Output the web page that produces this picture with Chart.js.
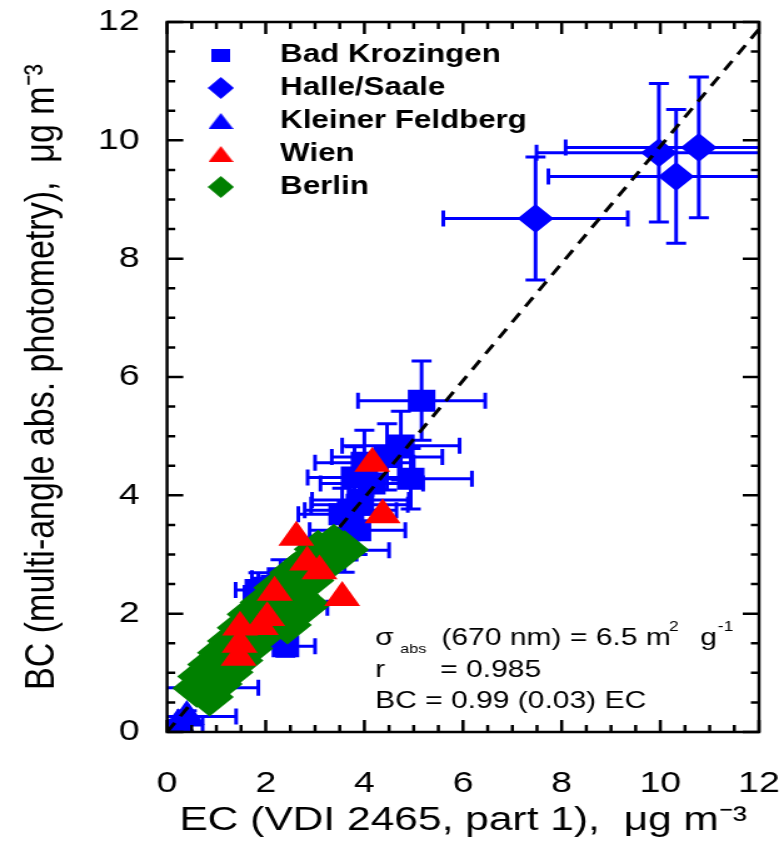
<!DOCTYPE html>
<html>
<head>
<meta charset="utf-8">
<script src="https://cdn.jsdelivr.net/npm/chart.js@4.4.0/dist/chart.umd.min.js"></script>
<style>
  html, body { margin: 0; padding: 0; background: #fff; overflow: hidden; }
  /* the original figure is stretched horizontally, so draw narrow and widen */
  #wrap { width: 627px; height: 851px; transform: scaleX(1.2504); transform-origin: 0 0; }
</style>
</head>
<body>
<div id="wrap"><canvas id="chart" width="627" height="851"></canvas></div>
<script>
// --- data ---
const sites = ['Bad Krozingen', 'Halle/Saale', 'Kleiner Feldberg', 'Wien', 'Berlin'];

const bkX  = [5.16, 4.74, 4.46, 4.94, 4.00, 4.15, 3.92, 3.90, 3.72, 3.86, 3.55, 3.80, 3.60, 2.40, 2.10, 1.85, 2.30, 1.20, 2.60];
const bkY  = [5.60, 4.84, 4.65, 4.28, 4.55, 4.20, 3.92, 3.84, 3.75, 3.41, 3.68, 4.30, 3.07, 1.45, 2.35, 2.40, 2.60, 1.20, 2.10];
const bkEx = [1.29, 1.19, 1.12, 1.24, 1.00, 1.04, 0.98, 0.98, 0.93, 0.97, 0.89, 0.95, 0.90, 0.60, 0.53, 0.46, 0.58, 0.30, 0.65];
const bkEy = [0.67, 0.58, 0.56, 0.51, 0.55, 0.50, 0.47, 0.46, 0.45, 0.41, 0.44, 0.52, 0.37, 0.17, 0.28, 0.29, 0.31, 0.14, 0.25];

const haX  = [7.47, 9.97, 10.32, 10.78];
const haY  = [8.68, 9.79, 9.39, 9.88];
const haEx = [1.87, 2.48, 2.59, 2.70];
const haEy = [1.04, 1.17, 1.13, 1.19];

const kfX  = [0.40, 0.22, 0.90];
const kfY  = [0.26, 0.12, 0.75];
const kfEx = [1.00, 0.50, 0.95];
const kfEy = [0.10, 0.08, 0.12];

const wiX = [4.16, 4.37, 2.62, 2.84, 3.09, 3.55, 2.18, 2.03, 1.90, 1.48, 1.47, 1.45];
const wiY = [4.54, 3.67, 3.29, 2.87, 2.72, 2.27, 2.36, 1.93, 1.78, 1.77, 1.48, 1.26];

const beX = [0.60, 0.86, 0.70, 1.04, 0.90, 1.26, 1.10, 1.46, 1.30, 1.66, 1.50, 1.86, 1.70, 2.10, 1.96, 2.32, 2.44, 2.24, 2.60, 2.83, 2.56, 2.90, 2.86, 3.18, 3.06, 3.38, 3.60];
const beY = [0.74, 0.59, 0.94, 0.81, 1.14, 1.01, 1.34, 1.21, 1.54, 1.41, 1.76, 1.61, 1.99, 1.86, 2.19, 2.06, 1.81, 2.44, 2.31, 2.15, 2.69, 2.56, 2.89, 2.81, 3.09, 3.19, 3.08];

const lineX = [0, 12];
const lineY = [0, 11.88];

const majorTicks = [0, 2, 4, 6, 8, 10, 12];

const BLUE = '#0000ff', RED = '#ff0000', GREEN = '#008000';
const FONT = "'Liberation Sans', Arial, sans-serif";

Chart.defaults.font.family = FONT;
Chart.defaults.color = '#000';

const pts = (xs, ys) => xs.map((v, i) => ({ x: v, y: ys[i] }));

// small legend symbols
function icon(shape, w, h, color) {
    const c = document.createElement('canvas');
    c.width = w; c.height = h;
    const g = c.getContext('2d');
    g.fillStyle = color;
    g.beginPath();
    if (shape === 'rect') g.rect(0, 0, w, h);
    else if (shape === 'diamond') { g.moveTo(w / 2, 0); g.lineTo(w, h / 2); g.lineTo(w / 2, h); g.lineTo(0, h / 2); }
    else { g.moveTo(w / 2, 0); g.lineTo(w, h); g.lineTo(0, h); }
    g.closePath();
    g.fill();
    return c;
}
const legendIcons = [
    icon('rect', 15, 13, BLUE),
    icon('diamond', 21, 22, BLUE),
    icon('tri', 20, 16, BLUE),
    icon('tri', 20, 16, RED),
    icon('diamond', 21, 22, GREEN)
];
const legendColors = [BLUE, BLUE, BLUE, RED, GREEN];

// error bars drawn under each dataset's markers
const errorBars = {
    id: 'errorBars',
    beforeDatasetDraw(chart, args) {
        const ds = chart.data.datasets[args.index];
        if (!ds.errX) return;
        const { ctx, chartArea: a, scales: { x, y } } = chart;
        const cap = 8;
        ctx.save();
        ctx.beginPath();
        ctx.rect(a.left, a.top, a.width, a.height);
        ctx.clip();
        ctx.strokeStyle = ds.backgroundColor;
        ctx.lineWidth = 3;
        ctx.beginPath();
        ds.data.forEach((p, i) => {
            const px = x.getPixelForValue(p.x), py = y.getPixelForValue(p.y);
            const x0 = x.getPixelForValue(p.x - ds.errX[i]), x1 = x.getPixelForValue(p.x + ds.errX[i]);
            const y0 = y.getPixelForValue(p.y - ds.errY[i]), y1 = y.getPixelForValue(p.y + ds.errY[i]);
            ctx.moveTo(x0, py); ctx.lineTo(x1, py);
            ctx.moveTo(x0, py - cap); ctx.lineTo(x0, py + cap);
            ctx.moveTo(x1, py - cap); ctx.lineTo(x1, py + cap);
            ctx.moveTo(px, y0); ctx.lineTo(px, y1);
            ctx.moveTo(px - cap, y0); ctx.lineTo(px + cap, y0);
            ctx.moveTo(px - cap, y1); ctx.lineTo(px + cap, y1);
        });
        ctx.stroke();
        ctx.restore();
    }
};

// box frame with inward ticks on all four sides
const frame = {
    id: 'frame',
    afterDatasetsDraw(chart) {
        const { ctx, chartArea: a, scales: { x, y } } = chart;
        ctx.save();
        ctx.strokeStyle = '#000';
        ctx.lineWidth = 2.5;
        ctx.beginPath();
        x.ticks.forEach(t => {
            const px = x.getPixelForValue(t.value);
            const len = majorTicks.includes(t.value) ? 12 : 7;
            ctx.moveTo(px, a.bottom); ctx.lineTo(px, a.bottom - len);
            ctx.moveTo(px, a.top); ctx.lineTo(px, a.top + len);
        });
        y.ticks.forEach(t => {
            const py = y.getPixelForValue(t.value);
            const len = majorTicks.includes(t.value) ? 13 : 6.5;
            ctx.moveTo(a.left, py); ctx.lineTo(a.left + len, py);
            ctx.moveTo(a.right, py); ctx.lineTo(a.right - len, py);
        });
        ctx.stroke();
        ctx.strokeRect(a.left, a.top, a.right - a.left, a.bottom - a.top);
        ctx.restore();
    }
};

// fit text in lower right corner
const fitText = {
    id: 'fitText',
    afterDatasetsDraw(chart) {
        const ctx = chart.ctx;
        const put = (t, px, py, size) => { ctx.font = `${size}px ${FONT}`; ctx.fillText(t, px, py); };
        ctx.save();
        ctx.fillStyle = '#000';
        ctx.textAlign = 'left';
        ctx.textBaseline = 'alphabetic';
        put('σ', 300, 645, 24);
        put('abs', 320, 653, 13);
        put('(670 nm) = 6.5 m', 353, 645, 24);
        put('2', 535, 631, 14);
        put('g', 560, 645, 24);
        put('-1', 574, 631, 14);
        put('r', 300, 677, 24);
        put('= 0.985', 352, 677, 24);
        put('BC = 0.99 (0.03) EC', 300, 708, 24);
        ctx.restore();
    }
};

// move the in-plot legend down a little
const legendShift = {
    id: 'legendShift',
    afterLayout(chart) {
        if (chart.legend) chart.legend.top = chart.chartArea.top + 12.5;
    }
};

new Chart(document.getElementById('chart'), {
    type: 'scatter',
    data: {
        datasets: [
            { label: sites[0], data: pts(bkX, bkY), errX: bkEx, errY: bkEy, pointStyle: 'rect', pointRadius: 15.6,
              backgroundColor: BLUE, borderColor: BLUE, borderWidth: 0, order: 6 },
            { label: sites[1], data: pts(haX, haY), errX: haEx, errY: haEy, pointStyle: 'rectRot', pointRadius: 14.5,
              backgroundColor: BLUE, borderColor: BLUE, borderWidth: 0, order: 5 },
            { label: sites[2], data: pts(kfX, kfY), errX: kfEx, errY: kfEy, pointStyle: 'triangle', pointRadius: 16.6,
              backgroundColor: BLUE, borderColor: BLUE, borderWidth: 0, order: 4 },
            { label: sites[3], data: pts(wiX, wiY), pointStyle: 'triangle', pointRadius: 16.6,
              backgroundColor: RED, borderColor: RED, borderWidth: 0, order: 1 },
            { label: sites[4], data: pts(beX, beY), pointStyle: 'rectRot', pointRadius: 19.5,
              backgroundColor: GREEN, borderColor: GREEN, borderWidth: 0, order: 2 },
            { label: '1:1', data: pts(lineX, lineY), showLine: true, borderColor: '#000', borderWidth: 3,
              borderDash: [11, 8], pointRadius: 0, order: 3 }
        ]
    },
    options: {
        responsive: false,
        animation: false,
        events: [],
        devicePixelRatio: 1,
        layout: { padding: { top: 22, right: 20, bottom: 0, left: 0 } },
        scales: {
            x: {
                type: 'linear', min: 0, max: 12,
                grid: { display: false },
                border: { display: false },
                ticks: {
                    stepSize: 0.5, autoSkip: false, maxRotation: 0, minRotation: 0, padding: 26,
                    font: { size: 30 },
                    callback: v => majorTicks.includes(v) ? String(v) : ''
                },
                title: {
                    display: true, text: 'EC (VDI 2465, part 1),  μg m⁻³',
                    font: { size: 34 }, padding: { top: 0, bottom: 10 }
                },
                afterFit: s => { s.height = 119; s.paddingLeft = 0; s.paddingRight = 0; }
            },
            y: {
                type: 'linear', min: 0, max: 12,
                grid: { display: false },
                border: { display: false },
                ticks: {
                    stepSize: 0.5, autoSkip: false, padding: 14,
                    font: { size: 30 },
                    callback: v => majorTicks.includes(v) ? String(v) : ''
                },
                title: {
                    display: true, text: 'BC (multi-angle abs. photometry),  μg m⁻³',
                    font: { size: 34 }, padding: { top: 13, bottom: 0 }
                },
                afterFit: s => { s.width = 133.6; s.paddingTop = 0; s.paddingBottom = 0; }
            }
        },
        plugins: {
            tooltip: { enabled: false },
            legend: {
                position: 'chartArea',
                align: 'start',
                fullSize: false,
                labels: {
                    usePointStyle: true,
                    pointStyleWidth: 70,
                    padding: 8,
                    color: '#000',
                    font: { size: 25, weight: 'bold' },
                    generateLabels: () => sites.map((name, i) => ({
                        text: name,
                        pointStyle: legendIcons[i],
                        fillStyle: legendColors[i],
                        strokeStyle: legendColors[i],
                        lineWidth: 0,
                        hidden: false,
                        datasetIndex: i
                    }))
                }
            }
        }
    },
    plugins: [errorBars, frame, fitText, legendShift]
});
</script>
</body>
</html>
